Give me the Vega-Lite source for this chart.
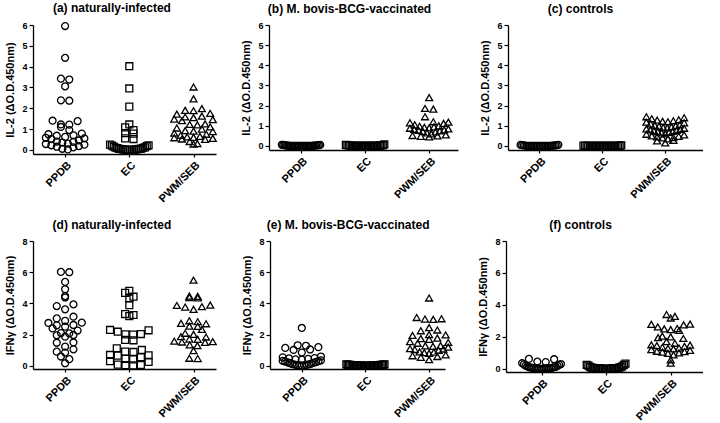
{
  "$schema": "https://vega.github.io/schema/vega-lite/v6.json",
  "padding": {"left": 4, "top": 1, "right": 0, "bottom": 0},
  "background": "white",
  "config": {
    "view": {"stroke": null},
    "font": "Liberation Sans",
    "axis": {"domainColor": "black", "tickColor": "black", "labelColor": "black", "titleColor": "black", "grid": false, "labelFont": "Liberation Sans", "titleFont": "Liberation Sans", "labelFontWeight": "bold", "titleFontWeight": "bold", "domainWidth": 1.3, "tickWidth": 1.2, "labelFlush": false, "labelOverlap": false, "minExtent": 0},
    "axisX": {"labelAngle": -45, "title": null, "tickSize": 3, "labelFontSize": 11, "labelPadding": 2},
    "axisY": {"tickSize": 4, "labelFontSize": 9, "labelPadding": 2, "titleFontSize": 11, "titlePadding": 6},
    "title": {"fontSize": 12, "fontWeight": "bold", "anchor": "middle", "frame": "bounds", "color": "black", "offset": 5, "font": "Liberation Sans"},
    "point": {"filled": false, "stroke": "black", "strokeWidth": 1.3, "size": 48, "opacity": 1}
  },
  "data": {"values": [
    {"panel": "a", "stim": "PPDB", "value": 5.95}, {"panel": "a", "stim": "PPDB", "value": 4.42}, {"panel": "a", "stim": "PPDB", "value": 3.42}, {"panel": "a", "stim": "PPDB", "value": 3.38}, {"panel": "a", "stim": "PPDB", "value": 3.05}, {"panel": "a", "stim": "PPDB", "value": 2.38}, {"panel": "a", "stim": "PPDB", "value": 2.36}, {"panel": "a", "stim": "PPDB", "value": 1.40}, {"panel": "a", "stim": "PPDB", "value": 1.38}, {"panel": "a", "stim": "PPDB", "value": 1.22}, {"panel": "a", "stim": "PPDB", "value": 1.21}, {"panel": "a", "stim": "PPDB", "value": 1.10}, {"panel": "a", "stim": "PPDB", "value": 0.95}, {"panel": "a", "stim": "PPDB", "value": 0.78}, {"panel": "a", "stim": "PPDB", "value": 0.75}, {"panel": "a", "stim": "PPDB", "value": 0.70}, {"panel": "a", "stim": "PPDB", "value": 0.68}, {"panel": "a", "stim": "PPDB", "value": 0.62}, {"panel": "a", "stim": "PPDB", "value": 0.58}, {"panel": "a", "stim": "PPDB", "value": 0.55}, {"panel": "a", "stim": "PPDB", "value": 0.52}, {"panel": "a", "stim": "PPDB", "value": 0.45}, {"panel": "a", "stim": "PPDB", "value": 0.40}, {"panel": "a", "stim": "PPDB", "value": 0.38}, {"panel": "a", "stim": "PPDB", "value": 0.35}, {"panel": "a", "stim": "PPDB", "value": 0.30}, {"panel": "a", "stim": "PPDB", "value": 0.28}, {"panel": "a", "stim": "PPDB", "value": 0.25}, {"panel": "a", "stim": "PPDB", "value": 0.22}, {"panel": "a", "stim": "PPDB", "value": 0.18}, {"panel": "a", "stim": "PPDB", "value": 0.15}, {"panel": "a", "stim": "PPDB", "value": 0.12}, {"panel": "a", "stim": "PPDB", "value": 0.05}, {"panel": "a", "stim": "PPDB", "value": 0.02},
    {"panel": "a", "stim": "EC", "value": 4.02}, {"panel": "a", "stim": "EC", "value": 2.95}, {"panel": "a", "stim": "EC", "value": 2.08}, {"panel": "a", "stim": "EC", "value": 1.22}, {"panel": "a", "stim": "EC", "value": 1.08}, {"panel": "a", "stim": "EC", "value": 0.95}, {"panel": "a", "stim": "EC", "value": 0.80}, {"panel": "a", "stim": "EC", "value": 0.78}, {"panel": "a", "stim": "EC", "value": 0.55}, {"panel": "a", "stim": "EC", "value": 0.52}, {"panel": "a", "stim": "EC", "value": 0.25}, {"panel": "a", "stim": "EC", "value": 0.22}, {"panel": "a", "stim": "EC", "value": 0.20}, {"panel": "a", "stim": "EC", "value": 0.18}, {"panel": "a", "stim": "EC", "value": 0.15}, {"panel": "a", "stim": "EC", "value": 0.12}, {"panel": "a", "stim": "EC", "value": 0.10}, {"panel": "a", "stim": "EC", "value": 0.10}, {"panel": "a", "stim": "EC", "value": 0.08}, {"panel": "a", "stim": "EC", "value": 0.06}, {"panel": "a", "stim": "EC", "value": 0.05}, {"panel": "a", "stim": "EC", "value": 0.05}, {"panel": "a", "stim": "EC", "value": 0.04}, {"panel": "a", "stim": "EC", "value": 0.03}, {"panel": "a", "stim": "EC", "value": 0.02}, {"panel": "a", "stim": "EC", "value": 0.02}, {"panel": "a", "stim": "EC", "value": 0.01}, {"panel": "a", "stim": "EC", "value": 0.0}, {"panel": "a", "stim": "EC", "value": 0.0}, {"panel": "a", "stim": "EC", "value": 0.0}, {"panel": "a", "stim": "EC", "value": 0.0}, {"panel": "a", "stim": "EC", "value": 0.0},
    {"panel": "a", "stim": "PWM/SEB", "value": 3.02}, {"panel": "a", "stim": "PWM/SEB", "value": 2.45}, {"panel": "a", "stim": "PWM/SEB", "value": 1.98}, {"panel": "a", "stim": "PWM/SEB", "value": 1.90}, {"panel": "a", "stim": "PWM/SEB", "value": 1.88}, {"panel": "a", "stim": "PWM/SEB", "value": 1.75}, {"panel": "a", "stim": "PWM/SEB", "value": 1.72}, {"panel": "a", "stim": "PWM/SEB", "value": 1.62}, {"panel": "a", "stim": "PWM/SEB", "value": 1.58}, {"panel": "a", "stim": "PWM/SEB", "value": 1.55}, {"panel": "a", "stim": "PWM/SEB", "value": 1.48}, {"panel": "a", "stim": "PWM/SEB", "value": 1.45}, {"panel": "a", "stim": "PWM/SEB", "value": 1.40}, {"panel": "a", "stim": "PWM/SEB", "value": 1.25}, {"panel": "a", "stim": "PWM/SEB", "value": 1.22}, {"panel": "a", "stim": "PWM/SEB", "value": 1.20}, {"panel": "a", "stim": "PWM/SEB", "value": 1.10}, {"panel": "a", "stim": "PWM/SEB", "value": 1.05}, {"panel": "a", "stim": "PWM/SEB", "value": 1.00}, {"panel": "a", "stim": "PWM/SEB", "value": 0.92}, {"panel": "a", "stim": "PWM/SEB", "value": 0.90}, {"panel": "a", "stim": "PWM/SEB", "value": 0.88}, {"panel": "a", "stim": "PWM/SEB", "value": 0.80}, {"panel": "a", "stim": "PWM/SEB", "value": 0.75}, {"panel": "a", "stim": "PWM/SEB", "value": 0.70}, {"panel": "a", "stim": "PWM/SEB", "value": 0.65}, {"panel": "a", "stim": "PWM/SEB", "value": 0.62}, {"panel": "a", "stim": "PWM/SEB", "value": 0.60}, {"panel": "a", "stim": "PWM/SEB", "value": 0.58}, {"panel": "a", "stim": "PWM/SEB", "value": 0.55}, {"panel": "a", "stim": "PWM/SEB", "value": 0.52}, {"panel": "a", "stim": "PWM/SEB", "value": 0.50}, {"panel": "a", "stim": "PWM/SEB", "value": 0.40}, {"panel": "a", "stim": "PWM/SEB", "value": 0.30}, {"panel": "a", "stim": "PWM/SEB", "value": 0.28},
    {"panel": "b", "stim": "PPDB", "value": 0.06}, {"panel": "b", "stim": "PPDB", "value": 0.05}, {"panel": "b", "stim": "PPDB", "value": 0.05}, {"panel": "b", "stim": "PPDB", "value": 0.04}, {"panel": "b", "stim": "PPDB", "value": 0.04}, {"panel": "b", "stim": "PPDB", "value": 0.03}, {"panel": "b", "stim": "PPDB", "value": 0.03}, {"panel": "b", "stim": "PPDB", "value": 0.03}, {"panel": "b", "stim": "PPDB", "value": 0.02}, {"panel": "b", "stim": "PPDB", "value": 0.02}, {"panel": "b", "stim": "PPDB", "value": 0.02}, {"panel": "b", "stim": "PPDB", "value": 0.02}, {"panel": "b", "stim": "PPDB", "value": 0.01}, {"panel": "b", "stim": "PPDB", "value": 0.01}, {"panel": "b", "stim": "PPDB", "value": 0.01}, {"panel": "b", "stim": "PPDB", "value": 0.01}, {"panel": "b", "stim": "PPDB", "value": 0.01}, {"panel": "b", "stim": "PPDB", "value": 0.0}, {"panel": "b", "stim": "PPDB", "value": 0.0}, {"panel": "b", "stim": "PPDB", "value": 0.0}, {"panel": "b", "stim": "PPDB", "value": 0.0}, {"panel": "b", "stim": "PPDB", "value": 0.0}, {"panel": "b", "stim": "PPDB", "value": 0.0}, {"panel": "b", "stim": "PPDB", "value": 0.0}, {"panel": "b", "stim": "PPDB", "value": 0.0}, {"panel": "b", "stim": "PPDB", "value": 0.0}, {"panel": "b", "stim": "PPDB", "value": 0.0}, {"panel": "b", "stim": "PPDB", "value": 0.0}, {"panel": "b", "stim": "PPDB", "value": 0.0}, {"panel": "b", "stim": "PPDB", "value": 0.0},
    {"panel": "b", "stim": "EC", "value": 0.08}, {"panel": "b", "stim": "EC", "value": 0.05}, {"panel": "b", "stim": "EC", "value": 0.04}, {"panel": "b", "stim": "EC", "value": 0.04}, {"panel": "b", "stim": "EC", "value": 0.03}, {"panel": "b", "stim": "EC", "value": 0.03}, {"panel": "b", "stim": "EC", "value": 0.02}, {"panel": "b", "stim": "EC", "value": 0.02}, {"panel": "b", "stim": "EC", "value": 0.02}, {"panel": "b", "stim": "EC", "value": 0.01}, {"panel": "b", "stim": "EC", "value": 0.01}, {"panel": "b", "stim": "EC", "value": 0.01}, {"panel": "b", "stim": "EC", "value": 0.01}, {"panel": "b", "stim": "EC", "value": 0.0}, {"panel": "b", "stim": "EC", "value": 0.0}, {"panel": "b", "stim": "EC", "value": 0.0}, {"panel": "b", "stim": "EC", "value": 0.0}, {"panel": "b", "stim": "EC", "value": 0.0}, {"panel": "b", "stim": "EC", "value": 0.0}, {"panel": "b", "stim": "EC", "value": 0.0}, {"panel": "b", "stim": "EC", "value": 0.0}, {"panel": "b", "stim": "EC", "value": 0.0}, {"panel": "b", "stim": "EC", "value": 0.0}, {"panel": "b", "stim": "EC", "value": 0.0}, {"panel": "b", "stim": "EC", "value": 0.0}, {"panel": "b", "stim": "EC", "value": 0.0}, {"panel": "b", "stim": "EC", "value": 0.0}, {"panel": "b", "stim": "EC", "value": -0.02}, {"panel": "b", "stim": "EC", "value": -0.03}, {"panel": "b", "stim": "EC", "value": -0.05},
    {"panel": "b", "stim": "PWM/SEB", "value": 2.40}, {"panel": "b", "stim": "PWM/SEB", "value": 1.86}, {"panel": "b", "stim": "PWM/SEB", "value": 1.83}, {"panel": "b", "stim": "PWM/SEB", "value": 1.45}, {"panel": "b", "stim": "PWM/SEB", "value": 1.20}, {"panel": "b", "stim": "PWM/SEB", "value": 1.18}, {"panel": "b", "stim": "PWM/SEB", "value": 1.15}, {"panel": "b", "stim": "PWM/SEB", "value": 1.12}, {"panel": "b", "stim": "PWM/SEB", "value": 1.05}, {"panel": "b", "stim": "PWM/SEB", "value": 1.00}, {"panel": "b", "stim": "PWM/SEB", "value": 0.98}, {"panel": "b", "stim": "PWM/SEB", "value": 0.95}, {"panel": "b", "stim": "PWM/SEB", "value": 0.92}, {"panel": "b", "stim": "PWM/SEB", "value": 0.90}, {"panel": "b", "stim": "PWM/SEB", "value": 0.88}, {"panel": "b", "stim": "PWM/SEB", "value": 0.85}, {"panel": "b", "stim": "PWM/SEB", "value": 0.82}, {"panel": "b", "stim": "PWM/SEB", "value": 0.80}, {"panel": "b", "stim": "PWM/SEB", "value": 0.78}, {"panel": "b", "stim": "PWM/SEB", "value": 0.75}, {"panel": "b", "stim": "PWM/SEB", "value": 0.72}, {"panel": "b", "stim": "PWM/SEB", "value": 0.70}, {"panel": "b", "stim": "PWM/SEB", "value": 0.65}, {"panel": "b", "stim": "PWM/SEB", "value": 0.60}, {"panel": "b", "stim": "PWM/SEB", "value": 0.55}, {"panel": "b", "stim": "PWM/SEB", "value": 0.52}, {"panel": "b", "stim": "PWM/SEB", "value": 0.50}, {"panel": "b", "stim": "PWM/SEB", "value": 0.48}, {"panel": "b", "stim": "PWM/SEB", "value": 0.45},
    {"panel": "c", "stim": "PPDB", "value": 0.06}, {"panel": "c", "stim": "PPDB", "value": 0.05}, {"panel": "c", "stim": "PPDB", "value": 0.04}, {"panel": "c", "stim": "PPDB", "value": 0.04}, {"panel": "c", "stim": "PPDB", "value": 0.03}, {"panel": "c", "stim": "PPDB", "value": 0.03}, {"panel": "c", "stim": "PPDB", "value": 0.02}, {"panel": "c", "stim": "PPDB", "value": 0.02}, {"panel": "c", "stim": "PPDB", "value": 0.02}, {"panel": "c", "stim": "PPDB", "value": 0.01}, {"panel": "c", "stim": "PPDB", "value": 0.01}, {"panel": "c", "stim": "PPDB", "value": 0.01}, {"panel": "c", "stim": "PPDB", "value": 0.0}, {"panel": "c", "stim": "PPDB", "value": 0.0}, {"panel": "c", "stim": "PPDB", "value": 0.0}, {"panel": "c", "stim": "PPDB", "value": 0.0}, {"panel": "c", "stim": "PPDB", "value": 0.0}, {"panel": "c", "stim": "PPDB", "value": 0.0}, {"panel": "c", "stim": "PPDB", "value": 0.0}, {"panel": "c", "stim": "PPDB", "value": 0.0}, {"panel": "c", "stim": "PPDB", "value": 0.0}, {"panel": "c", "stim": "PPDB", "value": 0.0}, {"panel": "c", "stim": "PPDB", "value": 0.0}, {"panel": "c", "stim": "PPDB", "value": 0.0}, {"panel": "c", "stim": "PPDB", "value": 0.0},
    {"panel": "c", "stim": "EC", "value": 0.03}, {"panel": "c", "stim": "EC", "value": 0.02}, {"panel": "c", "stim": "EC", "value": 0.02}, {"panel": "c", "stim": "EC", "value": 0.01}, {"panel": "c", "stim": "EC", "value": 0.01}, {"panel": "c", "stim": "EC", "value": 0.01}, {"panel": "c", "stim": "EC", "value": 0.0}, {"panel": "c", "stim": "EC", "value": 0.0}, {"panel": "c", "stim": "EC", "value": 0.0}, {"panel": "c", "stim": "EC", "value": 0.0}, {"panel": "c", "stim": "EC", "value": 0.0}, {"panel": "c", "stim": "EC", "value": 0.0}, {"panel": "c", "stim": "EC", "value": 0.0}, {"panel": "c", "stim": "EC", "value": 0.0}, {"panel": "c", "stim": "EC", "value": 0.0}, {"panel": "c", "stim": "EC", "value": 0.0}, {"panel": "c", "stim": "EC", "value": 0.0}, {"panel": "c", "stim": "EC", "value": 0.0}, {"panel": "c", "stim": "EC", "value": 0.0}, {"panel": "c", "stim": "EC", "value": 0.0}, {"panel": "c", "stim": "EC", "value": 0.0}, {"panel": "c", "stim": "EC", "value": 0.0}, {"panel": "c", "stim": "EC", "value": 0.0}, {"panel": "c", "stim": "EC", "value": 0.0}, {"panel": "c", "stim": "EC", "value": 0.0},
    {"panel": "c", "stim": "PWM/SEB", "value": 1.45}, {"panel": "c", "stim": "PWM/SEB", "value": 1.40}, {"panel": "c", "stim": "PWM/SEB", "value": 1.35}, {"panel": "c", "stim": "PWM/SEB", "value": 1.30}, {"panel": "c", "stim": "PWM/SEB", "value": 1.28}, {"panel": "c", "stim": "PWM/SEB", "value": 1.25}, {"panel": "c", "stim": "PWM/SEB", "value": 1.22}, {"panel": "c", "stim": "PWM/SEB", "value": 1.20}, {"panel": "c", "stim": "PWM/SEB", "value": 1.18}, {"panel": "c", "stim": "PWM/SEB", "value": 1.15}, {"panel": "c", "stim": "PWM/SEB", "value": 1.10}, {"panel": "c", "stim": "PWM/SEB", "value": 1.05}, {"panel": "c", "stim": "PWM/SEB", "value": 1.02}, {"panel": "c", "stim": "PWM/SEB", "value": 1.00}, {"panel": "c", "stim": "PWM/SEB", "value": 0.98}, {"panel": "c", "stim": "PWM/SEB", "value": 0.95}, {"panel": "c", "stim": "PWM/SEB", "value": 0.92}, {"panel": "c", "stim": "PWM/SEB", "value": 0.90}, {"panel": "c", "stim": "PWM/SEB", "value": 0.88}, {"panel": "c", "stim": "PWM/SEB", "value": 0.85}, {"panel": "c", "stim": "PWM/SEB", "value": 0.82}, {"panel": "c", "stim": "PWM/SEB", "value": 0.80}, {"panel": "c", "stim": "PWM/SEB", "value": 0.78}, {"panel": "c", "stim": "PWM/SEB", "value": 0.75}, {"panel": "c", "stim": "PWM/SEB", "value": 0.72}, {"panel": "c", "stim": "PWM/SEB", "value": 0.70}, {"panel": "c", "stim": "PWM/SEB", "value": 0.68}, {"panel": "c", "stim": "PWM/SEB", "value": 0.65}, {"panel": "c", "stim": "PWM/SEB", "value": 0.60}, {"panel": "c", "stim": "PWM/SEB", "value": 0.58}, {"panel": "c", "stim": "PWM/SEB", "value": 0.55}, {"panel": "c", "stim": "PWM/SEB", "value": 0.50}, {"panel": "c", "stim": "PWM/SEB", "value": 0.48}, {"panel": "c", "stim": "PWM/SEB", "value": 0.45}, {"panel": "c", "stim": "PWM/SEB", "value": 0.42}, {"panel": "c", "stim": "PWM/SEB", "value": 0.40}, {"panel": "c", "stim": "PWM/SEB", "value": 0.35}, {"panel": "c", "stim": "PWM/SEB", "value": 0.28}, {"panel": "c", "stim": "PWM/SEB", "value": 0.25}, {"panel": "c", "stim": "PWM/SEB", "value": 0.15},
    {"panel": "d", "stim": "PPDB", "value": 6.02}, {"panel": "d", "stim": "PPDB", "value": 6.00}, {"panel": "d", "stim": "PPDB", "value": 5.38}, {"panel": "d", "stim": "PPDB", "value": 4.91}, {"panel": "d", "stim": "PPDB", "value": 4.47}, {"panel": "d", "stim": "PPDB", "value": 4.38}, {"panel": "d", "stim": "PPDB", "value": 3.94}, {"panel": "d", "stim": "PPDB", "value": 3.83}, {"panel": "d", "stim": "PPDB", "value": 3.62}, {"panel": "d", "stim": "PPDB", "value": 3.15}, {"panel": "d", "stim": "PPDB", "value": 3.04}, {"panel": "d", "stim": "PPDB", "value": 2.89}, {"panel": "d", "stim": "PPDB", "value": 2.77}, {"panel": "d", "stim": "PPDB", "value": 2.75}, {"panel": "d", "stim": "PPDB", "value": 2.62}, {"panel": "d", "stim": "PPDB", "value": 2.60}, {"panel": "d", "stim": "PPDB", "value": 2.51}, {"panel": "d", "stim": "PPDB", "value": 2.40}, {"panel": "d", "stim": "PPDB", "value": 2.26}, {"panel": "d", "stim": "PPDB", "value": 2.10}, {"panel": "d", "stim": "PPDB", "value": 2.08}, {"panel": "d", "stim": "PPDB", "value": 1.98}, {"panel": "d", "stim": "PPDB", "value": 1.96}, {"panel": "d", "stim": "PPDB", "value": 1.87}, {"panel": "d", "stim": "PPDB", "value": 1.50}, {"panel": "d", "stim": "PPDB", "value": 1.48}, {"panel": "d", "stim": "PPDB", "value": 1.23}, {"panel": "d", "stim": "PPDB", "value": 1.06}, {"panel": "d", "stim": "PPDB", "value": 0.91}, {"panel": "d", "stim": "PPDB", "value": 0.85}, {"panel": "d", "stim": "PPDB", "value": 0.60}, {"panel": "d", "stim": "PPDB", "value": 0.43}, {"panel": "d", "stim": "PPDB", "value": 0.17},
    {"panel": "d", "stim": "EC", "value": 4.81}, {"panel": "d", "stim": "EC", "value": 4.68}, {"panel": "d", "stim": "EC", "value": 4.43}, {"panel": "d", "stim": "EC", "value": 4.32}, {"panel": "d", "stim": "EC", "value": 3.89}, {"panel": "d", "stim": "EC", "value": 3.32}, {"panel": "d", "stim": "EC", "value": 3.26}, {"panel": "d", "stim": "EC", "value": 3.19}, {"panel": "d", "stim": "EC", "value": 2.30}, {"panel": "d", "stim": "EC", "value": 2.28}, {"panel": "d", "stim": "EC", "value": 2.19}, {"panel": "d", "stim": "EC", "value": 2.04}, {"panel": "d", "stim": "EC", "value": 2.02}, {"panel": "d", "stim": "EC", "value": 2.00}, {"panel": "d", "stim": "EC", "value": 1.66}, {"panel": "d", "stim": "EC", "value": 1.64}, {"panel": "d", "stim": "EC", "value": 1.13}, {"panel": "d", "stim": "EC", "value": 1.02}, {"panel": "d", "stim": "EC", "value": 0.91}, {"panel": "d", "stim": "EC", "value": 0.89}, {"panel": "d", "stim": "EC", "value": 0.70}, {"panel": "d", "stim": "EC", "value": 0.68}, {"panel": "d", "stim": "EC", "value": 0.66}, {"panel": "d", "stim": "EC", "value": 0.55}, {"panel": "d", "stim": "EC", "value": 0.45}, {"panel": "d", "stim": "EC", "value": 0.42}, {"panel": "d", "stim": "EC", "value": 0.30}, {"panel": "d", "stim": "EC", "value": 0.26}, {"panel": "d", "stim": "EC", "value": 0.08}, {"panel": "d", "stim": "EC", "value": 0.06}, {"panel": "d", "stim": "EC", "value": 0.05}, {"panel": "d", "stim": "EC", "value": 0.03},
    {"panel": "d", "stim": "PWM/SEB", "value": 5.49}, {"panel": "d", "stim": "PWM/SEB", "value": 4.47}, {"panel": "d", "stim": "PWM/SEB", "value": 4.45}, {"panel": "d", "stim": "PWM/SEB", "value": 4.38}, {"panel": "d", "stim": "PWM/SEB", "value": 4.36}, {"panel": "d", "stim": "PWM/SEB", "value": 3.89}, {"panel": "d", "stim": "PWM/SEB", "value": 3.87}, {"panel": "d", "stim": "PWM/SEB", "value": 3.79}, {"panel": "d", "stim": "PWM/SEB", "value": 3.77}, {"panel": "d", "stim": "PWM/SEB", "value": 3.62}, {"panel": "d", "stim": "PWM/SEB", "value": 2.89}, {"panel": "d", "stim": "PWM/SEB", "value": 2.83}, {"panel": "d", "stim": "PWM/SEB", "value": 2.72}, {"panel": "d", "stim": "PWM/SEB", "value": 2.70}, {"panel": "d", "stim": "PWM/SEB", "value": 2.55}, {"panel": "d", "stim": "PWM/SEB", "value": 2.53}, {"panel": "d", "stim": "PWM/SEB", "value": 2.34}, {"panel": "d", "stim": "PWM/SEB", "value": 2.09}, {"panel": "d", "stim": "PWM/SEB", "value": 2.02}, {"panel": "d", "stim": "PWM/SEB", "value": 1.87}, {"panel": "d", "stim": "PWM/SEB", "value": 1.85}, {"panel": "d", "stim": "PWM/SEB", "value": 1.72}, {"panel": "d", "stim": "PWM/SEB", "value": 1.70}, {"panel": "d", "stim": "PWM/SEB", "value": 1.58}, {"panel": "d", "stim": "PWM/SEB", "value": 1.55}, {"panel": "d", "stim": "PWM/SEB", "value": 1.53}, {"panel": "d", "stim": "PWM/SEB", "value": 1.50}, {"panel": "d", "stim": "PWM/SEB", "value": 1.34}, {"panel": "d", "stim": "PWM/SEB", "value": 1.30}, {"panel": "d", "stim": "PWM/SEB", "value": 0.98}, {"panel": "d", "stim": "PWM/SEB", "value": 0.49}, {"panel": "d", "stim": "PWM/SEB", "value": 0.47},
    {"panel": "e", "stim": "PPDB", "value": 2.43}, {"panel": "e", "stim": "PPDB", "value": 1.32}, {"panel": "e", "stim": "PPDB", "value": 1.29}, {"panel": "e", "stim": "PPDB", "value": 1.20}, {"panel": "e", "stim": "PPDB", "value": 1.15}, {"panel": "e", "stim": "PPDB", "value": 1.05}, {"panel": "e", "stim": "PPDB", "value": 1.02}, {"panel": "e", "stim": "PPDB", "value": 0.85}, {"panel": "e", "stim": "PPDB", "value": 0.60}, {"panel": "e", "stim": "PPDB", "value": 0.55}, {"panel": "e", "stim": "PPDB", "value": 0.50}, {"panel": "e", "stim": "PPDB", "value": 0.48}, {"panel": "e", "stim": "PPDB", "value": 0.45}, {"panel": "e", "stim": "PPDB", "value": 0.42}, {"panel": "e", "stim": "PPDB", "value": 0.40}, {"panel": "e", "stim": "PPDB", "value": 0.35}, {"panel": "e", "stim": "PPDB", "value": 0.32}, {"panel": "e", "stim": "PPDB", "value": 0.30}, {"panel": "e", "stim": "PPDB", "value": 0.28}, {"panel": "e", "stim": "PPDB", "value": 0.25}, {"panel": "e", "stim": "PPDB", "value": 0.22}, {"panel": "e", "stim": "PPDB", "value": 0.20}, {"panel": "e", "stim": "PPDB", "value": 0.18}, {"panel": "e", "stim": "PPDB", "value": 0.15}, {"panel": "e", "stim": "PPDB", "value": 0.12}, {"panel": "e", "stim": "PPDB", "value": 0.10}, {"panel": "e", "stim": "PPDB", "value": 0.08}, {"panel": "e", "stim": "PPDB", "value": 0.06}, {"panel": "e", "stim": "PPDB", "value": 0.05}, {"panel": "e", "stim": "PPDB", "value": 0.04}, {"panel": "e", "stim": "PPDB", "value": 0.03}, {"panel": "e", "stim": "PPDB", "value": 0.02},
    {"panel": "e", "stim": "EC", "value": 0.10}, {"panel": "e", "stim": "EC", "value": 0.09}, {"panel": "e", "stim": "EC", "value": 0.08}, {"panel": "e", "stim": "EC", "value": 0.08}, {"panel": "e", "stim": "EC", "value": 0.07}, {"panel": "e", "stim": "EC", "value": 0.07}, {"panel": "e", "stim": "EC", "value": 0.06}, {"panel": "e", "stim": "EC", "value": 0.06}, {"panel": "e", "stim": "EC", "value": 0.05}, {"panel": "e", "stim": "EC", "value": 0.05}, {"panel": "e", "stim": "EC", "value": 0.05}, {"panel": "e", "stim": "EC", "value": 0.04}, {"panel": "e", "stim": "EC", "value": 0.04}, {"panel": "e", "stim": "EC", "value": 0.04}, {"panel": "e", "stim": "EC", "value": 0.03}, {"panel": "e", "stim": "EC", "value": 0.03}, {"panel": "e", "stim": "EC", "value": 0.03}, {"panel": "e", "stim": "EC", "value": 0.02}, {"panel": "e", "stim": "EC", "value": 0.02}, {"panel": "e", "stim": "EC", "value": 0.02}, {"panel": "e", "stim": "EC", "value": 0.01}, {"panel": "e", "stim": "EC", "value": 0.01}, {"panel": "e", "stim": "EC", "value": 0.01}, {"panel": "e", "stim": "EC", "value": 0.0}, {"panel": "e", "stim": "EC", "value": 0.0}, {"panel": "e", "stim": "EC", "value": 0.0}, {"panel": "e", "stim": "EC", "value": 0.0}, {"panel": "e", "stim": "EC", "value": 0.0}, {"panel": "e", "stim": "EC", "value": 0.0}, {"panel": "e", "stim": "EC", "value": 0.0},
    {"panel": "e", "stim": "PWM/SEB", "value": 4.35}, {"panel": "e", "stim": "PWM/SEB", "value": 3.10}, {"panel": "e", "stim": "PWM/SEB", "value": 3.02}, {"panel": "e", "stim": "PWM/SEB", "value": 3.00}, {"panel": "e", "stim": "PWM/SEB", "value": 2.98}, {"panel": "e", "stim": "PWM/SEB", "value": 2.45}, {"panel": "e", "stim": "PWM/SEB", "value": 2.30}, {"panel": "e", "stim": "PWM/SEB", "value": 2.25}, {"panel": "e", "stim": "PWM/SEB", "value": 2.00}, {"panel": "e", "stim": "PWM/SEB", "value": 1.98}, {"panel": "e", "stim": "PWM/SEB", "value": 1.95}, {"panel": "e", "stim": "PWM/SEB", "value": 1.78}, {"panel": "e", "stim": "PWM/SEB", "value": 1.75}, {"panel": "e", "stim": "PWM/SEB", "value": 1.70}, {"panel": "e", "stim": "PWM/SEB", "value": 1.55}, {"panel": "e", "stim": "PWM/SEB", "value": 1.50}, {"panel": "e", "stim": "PWM/SEB", "value": 1.45}, {"panel": "e", "stim": "PWM/SEB", "value": 1.30}, {"panel": "e", "stim": "PWM/SEB", "value": 1.28}, {"panel": "e", "stim": "PWM/SEB", "value": 1.25}, {"panel": "e", "stim": "PWM/SEB", "value": 1.20}, {"panel": "e", "stim": "PWM/SEB", "value": 1.10}, {"panel": "e", "stim": "PWM/SEB", "value": 1.08}, {"panel": "e", "stim": "PWM/SEB", "value": 1.05}, {"panel": "e", "stim": "PWM/SEB", "value": 1.00}, {"panel": "e", "stim": "PWM/SEB", "value": 0.90}, {"panel": "e", "stim": "PWM/SEB", "value": 0.88}, {"panel": "e", "stim": "PWM/SEB", "value": 0.85}, {"panel": "e", "stim": "PWM/SEB", "value": 0.80}, {"panel": "e", "stim": "PWM/SEB", "value": 0.70}, {"panel": "e", "stim": "PWM/SEB", "value": 0.65}, {"panel": "e", "stim": "PWM/SEB", "value": 0.60}, {"panel": "e", "stim": "PWM/SEB", "value": 0.55}, {"panel": "e", "stim": "PWM/SEB", "value": 0.40},
    {"panel": "f", "stim": "PPDB", "value": 0.62}, {"panel": "f", "stim": "PPDB", "value": 0.60}, {"panel": "f", "stim": "PPDB", "value": 0.45}, {"panel": "f", "stim": "PPDB", "value": 0.42}, {"panel": "f", "stim": "PPDB", "value": 0.35}, {"panel": "f", "stim": "PPDB", "value": 0.30}, {"panel": "f", "stim": "PPDB", "value": 0.28}, {"panel": "f", "stim": "PPDB", "value": 0.25}, {"panel": "f", "stim": "PPDB", "value": 0.20}, {"panel": "f", "stim": "PPDB", "value": 0.18}, {"panel": "f", "stim": "PPDB", "value": 0.15}, {"panel": "f", "stim": "PPDB", "value": 0.12}, {"panel": "f", "stim": "PPDB", "value": 0.10}, {"panel": "f", "stim": "PPDB", "value": 0.10}, {"panel": "f", "stim": "PPDB", "value": 0.08}, {"panel": "f", "stim": "PPDB", "value": 0.08}, {"panel": "f", "stim": "PPDB", "value": 0.06}, {"panel": "f", "stim": "PPDB", "value": 0.05}, {"panel": "f", "stim": "PPDB", "value": 0.05}, {"panel": "f", "stim": "PPDB", "value": 0.04}, {"panel": "f", "stim": "PPDB", "value": 0.03}, {"panel": "f", "stim": "PPDB", "value": 0.03}, {"panel": "f", "stim": "PPDB", "value": 0.02}, {"panel": "f", "stim": "PPDB", "value": 0.02}, {"panel": "f", "stim": "PPDB", "value": 0.01}, {"panel": "f", "stim": "PPDB", "value": 0.01}, {"panel": "f", "stim": "PPDB", "value": 0.0}, {"panel": "f", "stim": "PPDB", "value": 0.0},
    {"panel": "f", "stim": "EC", "value": 0.33}, {"panel": "f", "stim": "EC", "value": 0.25}, {"panel": "f", "stim": "EC", "value": 0.24}, {"panel": "f", "stim": "EC", "value": 0.20}, {"panel": "f", "stim": "EC", "value": 0.15}, {"panel": "f", "stim": "EC", "value": 0.12}, {"panel": "f", "stim": "EC", "value": 0.10}, {"panel": "f", "stim": "EC", "value": 0.08}, {"panel": "f", "stim": "EC", "value": 0.08}, {"panel": "f", "stim": "EC", "value": 0.06}, {"panel": "f", "stim": "EC", "value": 0.05}, {"panel": "f", "stim": "EC", "value": 0.05}, {"panel": "f", "stim": "EC", "value": 0.04}, {"panel": "f", "stim": "EC", "value": 0.04}, {"panel": "f", "stim": "EC", "value": 0.03}, {"panel": "f", "stim": "EC", "value": 0.03}, {"panel": "f", "stim": "EC", "value": 0.02}, {"panel": "f", "stim": "EC", "value": 0.02}, {"panel": "f", "stim": "EC", "value": 0.01}, {"panel": "f", "stim": "EC", "value": 0.01}, {"panel": "f", "stim": "EC", "value": 0.0}, {"panel": "f", "stim": "EC", "value": 0.0}, {"panel": "f", "stim": "EC", "value": 0.0}, {"panel": "f", "stim": "EC", "value": 0.0}, {"panel": "f", "stim": "EC", "value": 0.0},
    {"panel": "f", "stim": "PWM/SEB", "value": 3.40}, {"panel": "f", "stim": "PWM/SEB", "value": 3.28}, {"panel": "f", "stim": "PWM/SEB", "value": 3.18}, {"panel": "f", "stim": "PWM/SEB", "value": 2.80}, {"panel": "f", "stim": "PWM/SEB", "value": 2.78}, {"panel": "f", "stim": "PWM/SEB", "value": 2.75}, {"panel": "f", "stim": "PWM/SEB", "value": 2.62}, {"panel": "f", "stim": "PWM/SEB", "value": 2.52}, {"panel": "f", "stim": "PWM/SEB", "value": 2.50}, {"panel": "f", "stim": "PWM/SEB", "value": 2.45}, {"panel": "f", "stim": "PWM/SEB", "value": 2.40}, {"panel": "f", "stim": "PWM/SEB", "value": 2.05}, {"panel": "f", "stim": "PWM/SEB", "value": 2.00}, {"panel": "f", "stim": "PWM/SEB", "value": 1.95}, {"panel": "f", "stim": "PWM/SEB", "value": 1.90}, {"panel": "f", "stim": "PWM/SEB", "value": 1.70}, {"panel": "f", "stim": "PWM/SEB", "value": 1.60}, {"panel": "f", "stim": "PWM/SEB", "value": 1.50}, {"panel": "f", "stim": "PWM/SEB", "value": 1.48}, {"panel": "f", "stim": "PWM/SEB", "value": 1.45}, {"panel": "f", "stim": "PWM/SEB", "value": 1.40}, {"panel": "f", "stim": "PWM/SEB", "value": 1.35}, {"panel": "f", "stim": "PWM/SEB", "value": 1.30}, {"panel": "f", "stim": "PWM/SEB", "value": 1.28}, {"panel": "f", "stim": "PWM/SEB", "value": 1.25}, {"panel": "f", "stim": "PWM/SEB", "value": 1.20}, {"panel": "f", "stim": "PWM/SEB", "value": 1.15}, {"panel": "f", "stim": "PWM/SEB", "value": 1.10}, {"panel": "f", "stim": "PWM/SEB", "value": 1.07}, {"panel": "f", "stim": "PWM/SEB", "value": 1.05}, {"panel": "f", "stim": "PWM/SEB", "value": 1.00}, {"panel": "f", "stim": "PWM/SEB", "value": 0.97}, {"panel": "f", "stim": "PWM/SEB", "value": 0.87}, {"panel": "f", "stim": "PWM/SEB", "value": 0.56}, {"panel": "f", "stim": "PWM/SEB", "value": 0.35}
  ]},
  "transform": [
    {"calculate": "indexof(['PPDB','EC','PWM/SEB'], datum.stim) + 1", "as": "idx"},
    {"calculate": "floor(datum.value / (indexof(['a','b','c'], datum.panel) >= 0 ? 0.3 : 0.4))", "as": "row"},
    {"window": [{"op": "row_number", "as": "k"}, {"op": "count", "as": "n"}], "groupby": ["panel", "stim", "row"], "sort": [{"field": "value", "order": "ascending"}], "frame": [null, null]},
    {"calculate": "((datum.k - 1) % 2 == 0 ? (datum.k - 1) / 2 : -datum.k / 2) + (datum.n % 2 == 0 ? 0.5 : 0)", "as": "slot"},
    {"calculate": "datum.idx + datum.slot * min(0.13, 0.6 / max(datum.n - 1, 1))", "as": "xpos"}
  ],
  "spacing": 15,
  "vconcat": [
    {"spacing": 21, "align": "none", "bounds": "full", "hconcat": [
      {"width": 183, "height": 129, "title": "(a) naturally-infected", "transform": [{"filter": "datum.panel == 'a'"}], "mark": {"type": "point"},
       "encoding": {
         "x": {"field": "xpos", "type": "quantitative", "scale": {"domain": [0.5, 3.35], "nice": false, "zero": false}, "axis": {"values": [1, 2, 3], "labelExpr": "datum.value == 1 ? 'PPDB' : datum.value == 2 ? 'EC' : 'PWM/SEB'"}},
         "y": {"field": "value", "type": "quantitative", "scale": {"domain": [-0.2, 6], "nice": false, "zero": false}, "axis": {"values": [0, 1, 2, 3, 4, 5, 6], "title": "IL-2 (ΔO.D.450nm)"}},
         "shape": {"field": "stim", "type": "nominal", "scale": {"domain": ["PPDB", "EC", "PWM/SEB"], "range": ["circle", "square", "triangle-up"]}, "legend": null}}},
      {"width": 189, "height": 125, "title": "(b) M. bovis-BCG-vaccinated", "transform": [{"filter": "datum.panel == 'b'"}], "mark": {"type": "point"},
       "encoding": {
         "x": {"field": "xpos", "type": "quantitative", "scale": {"domain": [0.5, 3.45], "nice": false, "zero": false}, "axis": {"values": [1, 2, 3], "labelExpr": "datum.value == 1 ? 'PPDB' : datum.value == 2 ? 'EC' : 'PWM/SEB'"}},
         "y": {"field": "value", "type": "quantitative", "scale": {"domain": [-0.2, 6], "nice": false, "zero": false}, "axis": {"values": [0, 1, 2, 3, 4, 5, 6], "title": "IL-2 (ΔO.D.450nm)"}},
         "shape": {"field": "stim", "type": "nominal", "scale": {"domain": ["PPDB", "EC", "PWM/SEB"], "range": ["circle", "square", "triangle-up"]}, "legend": null}}},
      {"width": 195, "height": 125, "title": {"text": "(c) controls", "dx": -11}, "transform": [{"filter": "datum.panel == 'c'"}], "mark": {"type": "point"},
       "encoding": {
         "x": {"field": "xpos", "type": "quantitative", "scale": {"domain": [0.5, 3.6], "nice": false, "zero": false}, "axis": {"values": [1, 2, 3], "labelExpr": "datum.value == 1 ? 'PPDB' : datum.value == 2 ? 'EC' : 'PWM/SEB'"}},
         "y": {"field": "value", "type": "quantitative", "scale": {"domain": [-0.2, 6], "nice": false, "zero": false}, "axis": {"values": [0, 1, 2, 3, 4, 5, 6], "title": "IL-2 (ΔO.D.450nm)"}},
         "shape": {"field": "stim", "type": "nominal", "scale": {"domain": ["PPDB", "EC", "PWM/SEB"], "range": ["circle", "square", "triangle-up"]}, "legend": null}}}
    ]},
    {"spacing": 22, "align": "none", "bounds": "full", "hconcat": [
      {"width": 183, "height": 128, "title": "(d) naturally-infected", "transform": [{"filter": "datum.panel == 'd'"}], "mark": {"type": "point"},
       "encoding": {
         "x": {"field": "xpos", "type": "quantitative", "scale": {"domain": [0.5, 3.35], "nice": false, "zero": false}, "axis": {"values": [1, 2, 3], "labelExpr": "datum.value == 1 ? 'PPDB' : datum.value == 2 ? 'EC' : 'PWM/SEB'"}},
         "y": {"field": "value", "type": "quantitative", "scale": {"domain": [-0.2, 8], "nice": false, "zero": false}, "axis": {"values": [0, 2, 4, 6, 8], "title": "IFNγ (ΔO.D.450nm)"}},
         "shape": {"field": "stim", "type": "nominal", "scale": {"domain": ["PPDB", "EC", "PWM/SEB"], "range": ["circle", "square", "triangle-up"]}, "legend": null}}},
      {"width": 175, "height": 128, "title": "(e) M. bovis-BCG-vaccinated", "transform": [{"filter": "datum.panel == 'e'"}], "mark": {"type": "point"},
       "encoding": {
         "x": {"field": "xpos", "type": "quantitative", "scale": {"domain": [0.5, 3.25], "nice": false, "zero": false}, "axis": {"values": [1, 2, 3], "labelExpr": "datum.value == 1 ? 'PPDB' : datum.value == 2 ? 'EC' : 'PWM/SEB'"}},
         "y": {"field": "value", "type": "quantitative", "scale": {"domain": [-0.2, 8], "nice": false, "zero": false}, "axis": {"values": [0, 2, 4, 6, 8], "title": "IFNγ (ΔO.D.450nm)"}},
         "shape": {"field": "stim", "type": "nominal", "scale": {"domain": ["PPDB", "EC", "PWM/SEB"], "range": ["circle", "square", "triangle-up"]}, "legend": null}}},
      {"width": 197, "height": 131, "title": {"text": "(f) controls", "dx": -10}, "transform": [{"filter": "datum.panel == 'f'"}], "mark": {"type": "point"},
       "encoding": {
         "x": {"field": "xpos", "type": "quantitative", "scale": {"domain": [0.45, 3.5], "nice": false, "zero": false}, "axis": {"values": [1, 2, 3], "labelExpr": "datum.value == 1 ? 'PPDB' : datum.value == 2 ? 'EC' : 'PWM/SEB'"}},
         "y": {"field": "value", "type": "quantitative", "scale": {"domain": [-0.2, 8], "nice": false, "zero": false}, "axis": {"values": [0, 2, 4, 6, 8], "title": "IFNγ (ΔO.D.450nm)"}},
         "shape": {"field": "stim", "type": "nominal", "scale": {"domain": ["PPDB", "EC", "PWM/SEB"], "range": ["circle", "square", "triangle-up"]}, "legend": null}}}
    ]}
  ]
}
